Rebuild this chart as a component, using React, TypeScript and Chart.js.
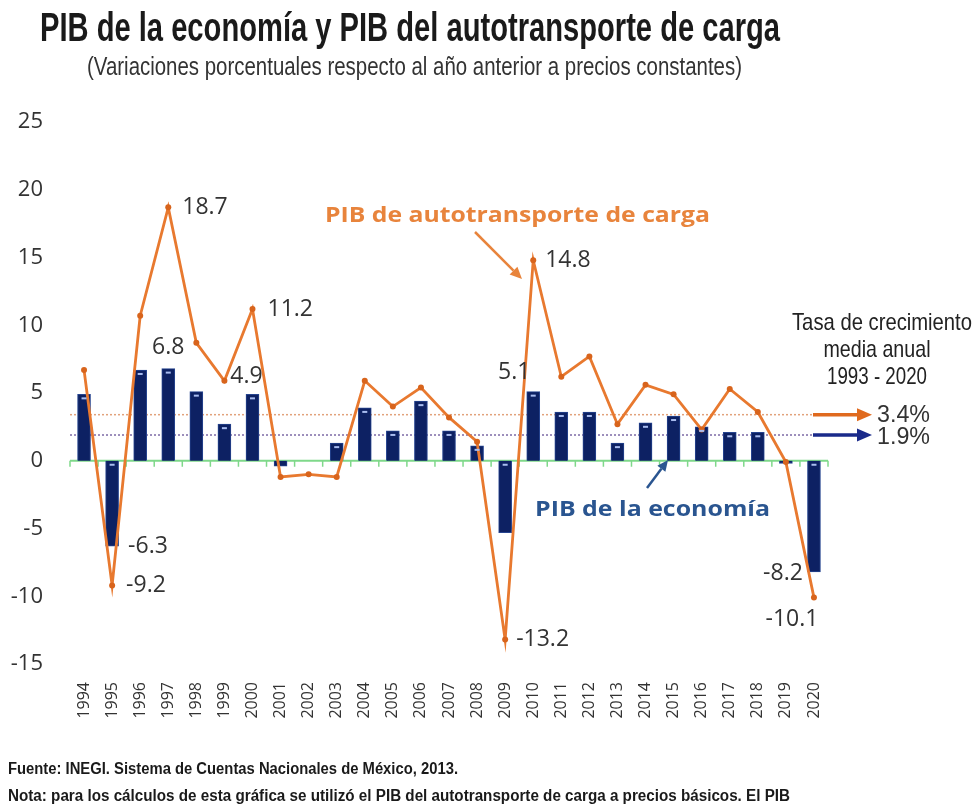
import React, { useEffect, useRef } from "react";
import { Chart, registerables } from "chart.js";

Chart.register(...registerables);

// ---------- DATA ----------
const CATEGORIES = [
  "1994", "1995", "1996", "1997", "1998", "1999", "2000", "2001", "2002",
  "2003", "2004", "2005", "2006", "2007", "2008", "2009", "2010", "2011",
  "2012", "2013", "2014", "2015", "2016", "2017", "2018", "2019", "2020",
];

// PIB de la economía (bars)
const ECONOMY = [
  4.9, -6.3, 6.7, 6.8, 5.1, 2.7, 4.9, -0.4, 0.0,
  1.3, 3.9, 2.2, 4.4, 2.2, 1.1, -5.3, 5.1, 3.6,
  3.6, 1.3, 2.8, 3.3, 2.5, 2.1, 2.1, -0.2, -8.2,
];

// PIB del autotransporte de carga (line)
const TRANSPORT = [
  6.7, -9.2, 10.7, 18.7, 8.7, 5.9, 11.2, -1.2, -1.0,
  -1.2, 5.9, 4.0, 5.4, 3.2, 1.4, -13.2, 14.8, 6.2,
  7.7, 2.7, 5.6, 4.9, 2.3, 5.3, 3.6, -0.1, -10.1,
];

const Y_MIN = -15;
const Y_MAX = 25;
const Y_STEP = 5;

const AVG_TRANSPORT = 3.4;
const AVG_ECONOMY = 1.9;

// labelled points (years whose values are printed)
const BAR_LABEL_YEARS = ["1995", "1997", "2000", "2010", "2020"];
const LINE_LABEL_YEARS = ["1995", "1997", "2000", "2009", "2010", "2020"];

// ---------- STYLE ----------
const ORANGE = "#e8792f";
const ORANGE_PT = "#d8641c";
const NAVY = "#0d2163";
const TEXT = "#333333";

function fitText(
  ctx: CanvasRenderingContext2D,
  text: string,
  x: number,
  y: number,
  width: number,
  font: string,
  color: string,
  align: "left" | "center" = "left"
) {
  ctx.save();
  ctx.font = font;
  ctx.fillStyle = color;
  ctx.textBaseline = "middle";
  ctx.textAlign = "left";
  const w = ctx.measureText(text).width;
  const s = width / w;
  const x0 = align === "center" ? x - width / 2 : x;
  ctx.translate(x0, y);
  ctx.scale(s, 1);
  ctx.fillText(text, 0, 0);
  ctx.restore();
}

function arrow(
  ctx: CanvasRenderingContext2D,
  x1: number,
  y1: number,
  x2: number,
  y2: number,
  color: string,
  lw: number,
  headLen: number,
  headW: number
) {
  const ang = Math.atan2(y2 - y1, x2 - x1);
  const bx = x2 - headLen * Math.cos(ang);
  const by = y2 - headLen * Math.sin(ang);
  ctx.save();
  ctx.strokeStyle = color;
  ctx.fillStyle = color;
  ctx.lineWidth = lw;
  ctx.lineCap = "butt";
  ctx.beginPath();
  ctx.moveTo(x1, y1);
  ctx.lineTo(bx, by);
  ctx.stroke();
  ctx.beginPath();
  ctx.moveTo(x2, y2);
  ctx.lineTo(bx + (headW / 2) * Math.sin(ang), by - (headW / 2) * Math.cos(ang));
  ctx.lineTo(bx - (headW / 2) * Math.sin(ang), by + (headW / 2) * Math.cos(ang));
  ctx.closePath();
  ctx.fill();
  ctx.restore();
}

const overlayPlugin = {
  id: "overlay",
  beforeDatasetsDraw(chart: any) {
    const { ctx, chartArea, scales } = chart;
    const { left, right } = chartArea;
    const x = scales.x;
    const y = scales.y;
    const lineEnd = right - 15;

    // average dotted lines
    ctx.save();
    ctx.setLineDash([2, 2]);
    ctx.lineWidth = 1.5;
    ctx.strokeStyle = "#e2a27c";
    const yt = y.getPixelForValue(AVG_TRANSPORT);
    ctx.beginPath();
    ctx.moveTo(left, yt);
    ctx.lineTo(lineEnd, yt);
    ctx.stroke();
    ctx.strokeStyle = "#7d6aa6";
    const ye = y.getPixelForValue(AVG_ECONOMY);
    ctx.beginPath();
    ctx.moveTo(left, ye);
    ctx.lineTo(lineEnd, ye);
    ctx.stroke();
    ctx.restore();

    // zero line with category-boundary ticks
    const y0 = y.getPixelForValue(0);
    ctx.save();
    ctx.strokeStyle = "#7fd88a";
    ctx.lineWidth = 2;
    ctx.beginPath();
    ctx.moveTo(left, y0);
    ctx.lineTo(right, y0);
    ctx.stroke();
    ctx.lineWidth = 1.5;
    const n = CATEGORIES.length;
    for (let i = 0; i <= n; i++) {
      let bx: number;
      if (i === 0) bx = left;
      else if (i === n) bx = right;
      else bx = (x.getPixelForValue(i - 1) + x.getPixelForValue(i)) / 2;
      ctx.beginPath();
      ctx.moveTo(bx, y0);
      ctx.lineTo(bx, y0 + 6);
      ctx.stroke();
    }
    ctx.restore();
  },
  afterDatasetsDraw(chart: any) {
    const { ctx, scales } = chart;
    const x = scales.x;
    const y = scales.y;

    // small light marks near the top edge of each bar
    const barMeta = chart.getDatasetMeta(1);
    ctx.save();
    ctx.fillStyle = "#a9bdf0";
    barMeta.data.forEach((el: any) => {
      const p = el.getProps(["x", "y", "base"], true);
      const top = Math.min(p.y, p.base);
      const h = Math.abs(p.base - p.y);
      if (h > 7) ctx.fillRect(p.x - 2.5, top + 3, 5, 2);
    });
    ctx.restore();

    // value labels
    const labelFont = '23px "Open Sans", sans-serif';
    ctx.save();
    ctx.font = labelFont;
    ctx.fillStyle = TEXT;
    ctx.textBaseline = "middle";

    const barOffsets: Record<string, [number, number, CanvasTextAlign]> = {
      "1995": [16, 0, "left"],
      "1997": [0, -21, "center"],
      "2000": [-6, -18, "center"],
      "2010": [-19, -19, "center"],
      "2020": [-31, 2, "center"],
    };
    BAR_LABEL_YEARS.forEach((yr) => {
      const i = CATEGORIES.indexOf(yr);
      const v = ECONOMY[i];
      const px = x.getPixelForValue(i);
      const py = y.getPixelForValue(v);
      const [dx, dy, al] = barOffsets[yr];
      ctx.textAlign = al;
      ctx.fillText(v.toFixed(1), px + dx, py + dy);
    });

    const lineOffsets: Record<string, [number, number, CanvasTextAlign]> = {
      "1995": [14, 0, "left"],
      "1997": [14, 0, "left"],
      "2000": [15, 0, "left"],
      "2009": [11, 0, "left"],
      "2010": [12, 0, "left"],
      "2020": [-22, 22, "center"],
    };
    LINE_LABEL_YEARS.forEach((yr) => {
      const i = CATEGORIES.indexOf(yr);
      const v = TRANSPORT[i];
      const px = x.getPixelForValue(i);
      const py = y.getPixelForValue(v);
      const [dx, dy, al] = lineOffsets[yr];
      ctx.textAlign = al;
      ctx.fillText(v.toFixed(1), px + dx, py + dy);
    });
    ctx.restore();
  },
  afterDraw(chart: any) {
    const { ctx, chartArea, scales } = chart;
    const y = scales.y;
    const right = chartArea.right;

    // title & subtitle
    fitText(ctx, "PIB de la economía y PIB del autotransporte de carga", 40, 30, 740,
      'bold 41px "Liberation Sans Narrow", "Liberation Sans", sans-serif', "#1a1a1a");
    fitText(ctx, "(Variaciones porcentuales respecto al año anterior a precios constantes)", 87, 68, 655,
      '25px "Liberation Sans Narrow", "Liberation Sans", sans-serif', TEXT);

    // series annotations
    fitText(ctx, "PIB de autotransporte de carga", 325, 216, 385,
      'bold 22px "Open Sans", sans-serif', "#e8843c");
    arrow(ctx, 475, 232, 522, 279, "#e8843c", 2.5, 12, 11);

    fitText(ctx, "PIB de la economía", 535, 510, 235,
      'bold 22px "Open Sans", sans-serif', "#2a5590");
    arrow(ctx, 647, 488, 668, 460, "#2a5590", 2.5, 11, 10);

    // average annotation
    const legFont = '24px "Liberation Sans Narrow", "Liberation Sans", sans-serif';
    fitText(ctx, "Tasa de crecimiento", 882, 323, 180, legFont, "#222", "center");
    fitText(ctx, "media anual", 877, 350, 107, legFont, "#222", "center");
    fitText(ctx, "1993 - 2020", 877, 377, 100, legFont, "#222", "center");

    const yt = y.getPixelForValue(AVG_TRANSPORT);
    const ye = y.getPixelForValue(AVG_ECONOMY);
    arrow(ctx, right - 15, yt, right + 44, yt, "#e06a1e", 3.5, 15, 13);
    arrow(ctx, right - 15, ye, right + 44, ye, "#1a2a8a", 3.5, 15, 13);
    fitText(ctx, AVG_TRANSPORT.toFixed(1) + "%", 877, yt + 1, 53, legFont, TEXT);
    fitText(ctx, AVG_ECONOMY.toFixed(1) + "%", 877, ye + 2, 53, legFont, TEXT);

    // footer
    const footFont = 'bold 16px "Liberation Sans Narrow", "Liberation Sans", sans-serif';
    fitText(ctx, "Fuente: INEGI. Sistema de Cuentas Nacionales de México, 2013.", 8, 770, 450, footFont, "#1a1a1a");
    fitText(ctx, "Nota: para los cálculos de esta gráfica se utilizó el PIB del autotransporte de carga a precios básicos. El PIB",
      8, 797, 782, footFont, "#1a1a1a");
  },
};

export default function App() {
  const ref = useRef<HTMLCanvasElement | null>(null);

  useEffect(() => {
    if (!ref.current) return;
    Chart.defaults.font.family = '"Open Sans", sans-serif';
    const chart = new Chart(ref.current, {
      type: "bar",
      data: {
        labels: CATEGORIES,
        datasets: [
          {
            type: "line",
            label: "PIB de autotransporte de carga",
            data: TRANSPORT,
            borderColor: ORANGE,
            borderWidth: 2.8,
            pointRadius: 3,
            pointBackgroundColor: ORANGE_PT,
            pointBorderWidth: 0,
            tension: 0,
          } as any,
          {
            type: "bar",
            label: "PIB de la economía",
            data: ECONOMY,
            backgroundColor: NAVY,
            borderColor: "#26448f",
            borderWidth: 1,
            barThickness: 13,
          } as any,
        ],
      },
      options: {
        responsive: false,
        animation: false,
        devicePixelRatio: 1,
        layout: { padding: { top: 122, right: 145, bottom: 0, left: 0 } },
        plugins: {
          legend: { display: false },
          tooltip: { enabled: false },
          title: { display: false },
        },
        scales: {
          x: {
            grid: { display: false, drawTicks: false },
            border: { display: false },
            ticks: {
              autoSkip: false,
              maxRotation: 90,
              minRotation: 90,
              padding: 18,
              color: TEXT,
              font: { size: 16, family: '"Open Sans", sans-serif' },
            },
            afterFit: (s: any) => {
              s.height = 145;
            },
          },
          y: {
            min: Y_MIN,
            max: Y_MAX,
            grid: { display: false, drawTicks: false },
            border: { display: false },
            ticks: {
              stepSize: Y_STEP,
              padding: 27,
              color: TEXT,
              font: { size: 22, family: '"Open Sans", sans-serif' },
            },
            afterFit: (s: any) => {
              s.width = 70;
            },
          },
        },
      },
      plugins: [overlayPlugin],
    });
    return () => chart.destroy();
  }, []);

  return (
    <div style={{ position: "absolute", left: 0, top: 0, width: 973, height: 809, background: "#fff" }}>
      <canvas ref={ref} width={973} height={809} style={{ display: "block" }} />
    </div>
  );
}
